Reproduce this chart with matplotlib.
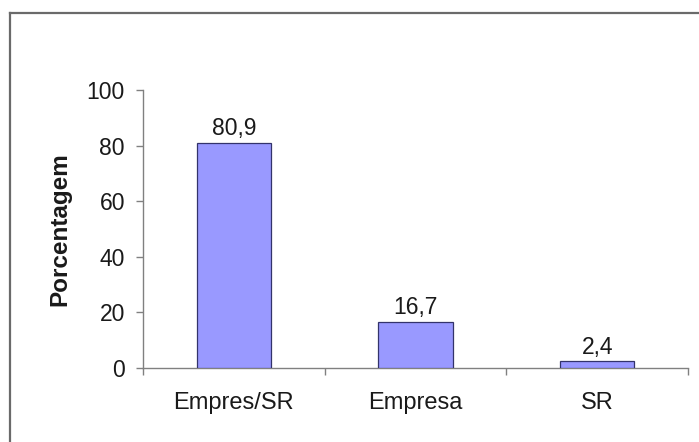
import numpy as np
import matplotlib
matplotlib.use("Agg")
import matplotlib.pyplot as plt
from matplotlib.lines import Line2D

plt.rcParams['font.family'] = ['Liberation Sans', 'DejaVu Sans']

# percentages per group
categories = ["Empres/SR", "Empresa", "SR"]
values = [80.9, 16.7, 2.4]
value_labels = ["80,9", "16,7", "2,4"]
yticks = [0, 20, 40, 60, 80, 100]

W, H = 699, 442
fig = plt.figure(figsize=(W / 100, H / 100), dpi=100)
ax = fig.add_axes([143 / W, 1 - 368 / H, (688 - 143) / W, (368 - 90) / H])

x = np.arange(len(categories))
bars = ax.bar(x, values, width=0.41, color='#9999ff', edgecolor='#33336b', linewidth=0.9, zorder=3)

for xi, v, lab in zip(x, values, value_labels):
    ax.annotate(lab, (xi, v), xytext=(0, 2), textcoords='offset points',
                ha='center', va='bottom', fontsize=16.5, color='#1a1a1a')

ax.set_xlim(-0.5, len(categories) - 0.5)
ax.set_ylim(0, 100)
ax.set_yticks(yticks)
ax.set_yticklabels([str(t) for t in yticks])

# category labels centred, tick marks at the boundaries
ax.set_xticks(x)
ax.set_xticklabels(categories)
ax.set_xticks(np.arange(-0.5, len(categories)), minor=True)
ax.tick_params(axis='x', which='major', length=0, pad=17, labelsize=17, labelcolor='#1a1a1a')
ax.tick_params(axis='x', which='minor', length=5, width=1, color='#808080', direction='out')
ax.tick_params(axis='y', length=5, width=1, color='#808080', direction='out', pad=8,
               labelsize=16.5, labelcolor='#1a1a1a')

for s in ['top', 'right']:
    ax.spines[s].set_visible(False)
for s in ['left', 'bottom']:
    ax.spines[s].set_color('#808080')
    ax.spines[s].set_linewidth(1)

ax.set_ylabel('Porcentagem', fontsize=17.5, fontweight='bold', color='#1a1a1a', labelpad=11)

# chart area frame (left and top edges)
fig.add_artist(Line2D([10 / W, 10 / W], [0, 1 - 13 / H], transform=fig.transFigure,
                      color='#6a6a6a', linewidth=1.6))
fig.add_artist(Line2D([10 / W, 1], [1 - 13 / H, 1 - 13 / H], transform=fig.transFigure,
                      color='#6a6a6a', linewidth=1.6))

fig.savefig("out.png", dpi=100, facecolor='white')
